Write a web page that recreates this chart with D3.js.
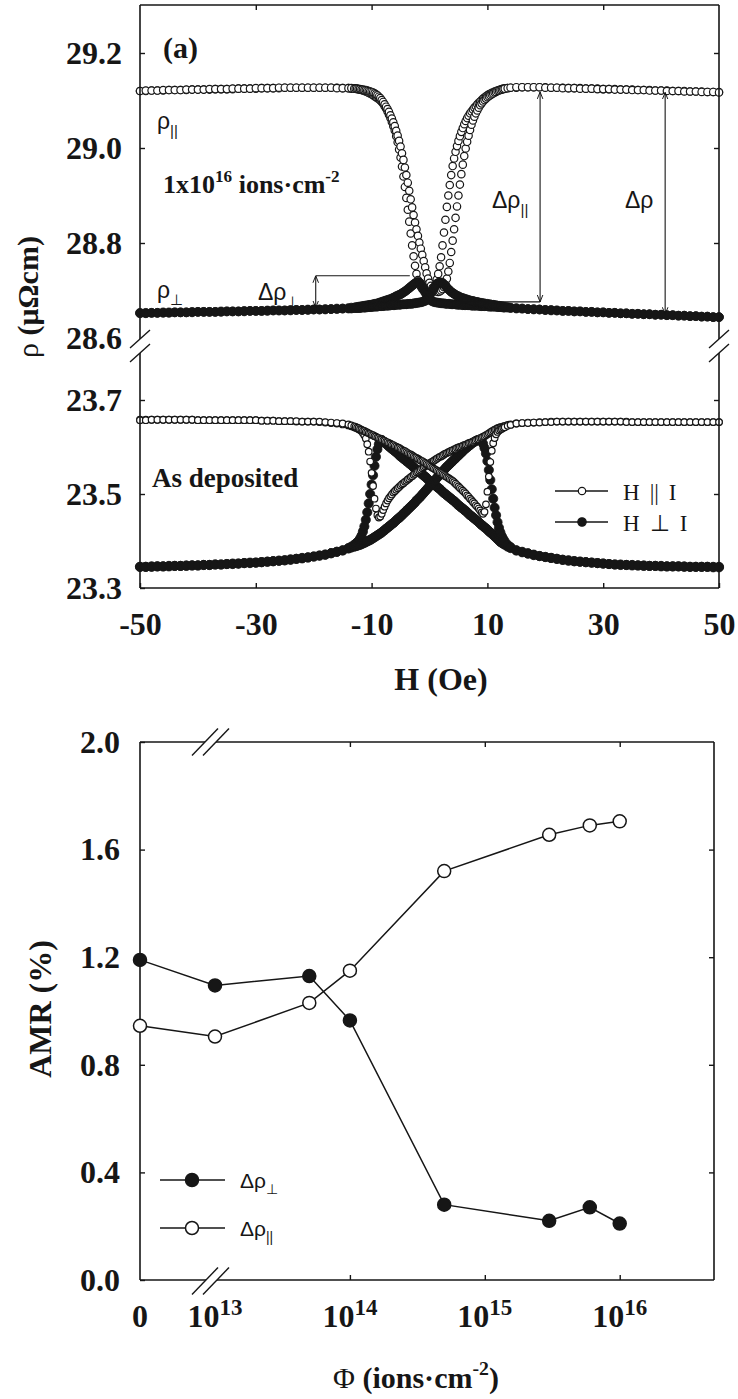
<!DOCTYPE html>
<html>
<head>
<meta charset="utf-8">
<script src="https://cdn.jsdelivr.net/npm/d3@7"></script>
<style>body{margin:0;background:#fff}</style>
</head>
<body>
<div id="chart"></div>
<script>
// ---- panel (a): field sweep grid in Oe, same for every branch ----
const fieldH = [-50,-49,-48,-47,-46,-45,-44,-43,-42,-41,-40,-39,-38,-37,-36,-35,-34,-33,-32,-31,-30,-29,-28,-27,-26,-25,-24,-23,-22,-21,-20,-19,-18,-17,-16,-15,-14,
  -13.5,
  -13,-12.75,-12.5,-12.25,-12,-11.75,-11.5,-11.25,-11,-10.75,-10.5,-10.25,-10,-9.75,-9.5,-9.25,-9,-8.75,-8.5,-8.25,-8,-7.75,-7.5,-7.25,-7,-6.75,-6.5,-6.25,-6,-5.75,-5.5,-5.25,-5,-4.75,-4.5,-4.25,-4,-3.75,-3.5,-3.25,-3,-2.75,-2.5,-2.25,-2,-1.75,-1.5,-1.25,-1,-0.75,-0.5,-0.25,
  0,0.25,0.5,0.75,1,1.25,1.5,1.75,2,2.25,2.5,2.75,3,3.25,3.5,3.75,4,4.25,4.5,4.75,5,5.25,5.5,5.75,6,6.25,6.5,6.75,7,7.25,7.5,7.75,8,8.25,8.5,8.75,9,9.25,9.5,9.75,10,10.25,10.5,10.75,11,11.25,11.5,11.75,12,12.25,12.5,12.75,13,
  13.5,
  14,15,16,17,18,19,20,21,22,23,24,25,26,27,28,29,30,31,32,33,34,35,36,37,38,39,40,41,42,43,44,45,46,47,48,49,50];

// 1x10^16 ions/cm2, H || I (open), two sweep branches
const rhoPar16A = [29.120,29.120,29.121,29.121,29.121,29.122,29.122,29.122,29.122,29.123,29.123,29.123,29.123,29.124,29.124,29.124,29.124,29.125,29.125,29.125,29.125,29.126,29.126,29.126,29.126,29.127,29.127,29.127,29.127,29.127,29.127,29.127,29.127,29.127,29.127,29.126,29.126,
  29.125,
  29.125,29.125,29.124,29.124,29.123,29.122,29.121,29.120,29.119,29.118,29.116,29.115,29.113,29.111,29.109,29.107,29.105,29.103,29.100,29.097,29.093,29.088,29.083,29.077,29.070,29.063,29.055,29.046,29.037,29.025,29.012,28.997,28.980,28.961,28.940,28.918,28.895,28.870,28.845,28.820,28.795,28.772,28.752,28.735,28.722,28.714,28.708,28.703,28.700,28.698,28.697,28.698,
  28.700,28.703,28.706,28.709,28.714,28.723,28.735,28.751,28.770,28.795,28.822,28.849,28.876,28.900,28.922,28.943,28.962,28.978,28.992,29.004,29.015,29.025,29.034,29.042,29.050,29.057,29.063,29.068,29.073,29.077,29.081,29.085,29.088,29.092,29.095,29.098,29.101,29.104,29.106,29.109,29.111,29.113,29.114,29.116,29.117,29.119,29.120,29.121,29.122,29.123,29.124,29.125,29.125,
  29.126,
  29.127,29.127,29.128,29.128,29.128,29.128,29.128,29.127,29.127,29.127,29.126,29.126,29.126,29.125,29.125,29.125,29.124,29.124,29.124,29.123,29.123,29.123,29.122,29.122,29.122,29.121,29.121,29.121,29.120,29.120,29.120,29.119,29.119,29.119,29.118,29.118,29.118];
const rhoPar16B = [29.120,29.121,29.121,29.121,29.122,29.122,29.122,29.122,29.123,29.123,29.123,29.123,29.124,29.124,29.124,29.124,29.125,29.125,29.125,29.125,29.126,29.126,29.126,29.126,29.127,29.127,29.127,29.127,29.127,29.127,29.127,29.127,29.127,29.127,29.126,29.126,29.126,
  29.126,
  29.125,29.125,29.125,29.124,29.124,29.123,29.123,29.122,29.122,29.121,29.120,29.119,29.118,29.117,29.115,29.113,29.111,29.108,29.105,29.101,29.097,29.092,29.087,29.082,29.076,29.069,29.062,29.054,29.046,29.036,29.026,29.015,29.003,28.989,28.975,28.959,28.943,28.927,28.910,28.892,28.875,28.859,28.843,28.829,28.815,28.801,28.788,28.775,28.762,28.749,28.736,28.725,
  28.716,28.710,28.705,28.702,28.699,28.698,28.697,28.698,28.700,28.703,28.707,28.714,28.725,28.740,28.758,28.781,28.805,28.829,28.853,28.877,28.900,28.923,28.945,28.965,28.983,28.999,29.013,29.026,29.038,29.049,29.058,29.066,29.073,29.079,29.085,29.090,29.094,29.098,29.101,29.104,29.107,29.109,29.111,29.113,29.115,29.117,29.118,29.120,29.121,29.122,29.123,29.124,29.125,
  29.126,
  29.127,29.128,29.128,29.128,29.128,29.128,29.127,29.127,29.127,29.126,29.126,29.126,29.125,29.125,29.125,29.124,29.124,29.124,29.123,29.123,29.123,29.122,29.122,29.122,29.121,29.121,29.121,29.120,29.120,29.120,29.119,29.119,29.119,29.118,29.118,29.118,29.117];
// 1x10^16 ions/cm2, H perp I (filled)
const rhoPerp16A = [28.653,28.653,28.653,28.653,28.654,28.654,28.654,28.654,28.654,28.655,28.655,28.655,28.655,28.655,28.656,28.656,28.656,28.656,28.657,28.657,28.657,28.657,28.658,28.658,28.658,28.658,28.659,28.659,28.659,28.660,28.660,28.660,28.661,28.661,28.662,28.662,28.663,
  28.664,
  28.664,28.665,28.665,28.666,28.666,28.667,28.667,28.668,28.668,28.669,28.669,28.670,28.670,28.671,28.672,28.672,28.673,28.674,28.675,28.676,28.677,28.678,28.679,28.680,28.681,28.682,28.683,28.685,28.686,28.688,28.689,28.691,28.692,28.694,28.696,28.698,28.700,28.703,28.705,28.708,28.710,28.713,28.715,28.717,28.718,28.717,28.714,28.709,28.703,28.696,28.690,28.685,
  28.681,28.679,28.677,28.676,28.675,28.675,28.674,28.674,28.673,28.673,28.673,28.672,28.672,28.672,28.672,28.671,28.671,28.671,28.671,28.670,28.670,28.670,28.670,28.669,28.669,28.669,28.669,28.669,28.669,28.668,28.668,28.668,28.668,28.668,28.668,28.667,28.667,28.667,28.667,28.667,28.667,28.666,28.666,28.666,28.666,28.666,28.666,28.665,28.665,28.665,28.665,28.664,28.664,
  28.664,
  28.663,28.662,28.662,28.661,28.660,28.660,28.659,28.658,28.658,28.657,28.657,28.656,28.656,28.655,28.655,28.654,28.654,28.653,28.653,28.652,28.652,28.651,28.651,28.650,28.650,28.649,28.649,28.648,28.648,28.647,28.647,28.646,28.646,28.645,28.645,28.644,28.644];
const rhoPerp16B = [28.652,28.652,28.653,28.653,28.653,28.653,28.654,28.654,28.654,28.654,28.655,28.655,28.655,28.655,28.655,28.656,28.656,28.656,28.656,28.657,28.657,28.657,28.657,28.658,28.658,28.658,28.658,28.659,28.659,28.659,28.660,28.660,28.660,28.661,28.661,28.662,28.662,
  28.662,
  28.663,28.663,28.663,28.663,28.663,28.664,28.664,28.664,28.664,28.665,28.665,28.665,28.665,28.666,28.666,28.666,28.666,28.667,28.667,28.667,28.667,28.668,28.668,28.668,28.668,28.669,28.669,28.669,28.669,28.670,28.670,28.670,28.670,28.671,28.671,28.671,28.671,28.672,28.672,28.672,28.672,28.673,28.673,28.674,28.674,28.675,28.675,28.676,28.677,28.678,28.680,28.683,
  28.688,28.694,28.700,28.705,28.710,28.714,28.716,28.717,28.717,28.716,28.713,28.710,28.706,28.703,28.700,28.697,28.695,28.693,28.691,28.689,28.688,28.686,28.685,28.684,28.683,28.682,28.681,28.680,28.679,28.678,28.678,28.677,28.676,28.676,28.675,28.674,28.674,28.673,28.673,28.672,28.672,28.671,28.671,28.670,28.670,28.669,28.669,28.668,28.668,28.667,28.667,28.666,28.666,
  28.665,
  28.664,28.663,28.662,28.661,28.661,28.660,28.659,28.659,28.658,28.657,28.657,28.656,28.656,28.655,28.655,28.654,28.654,28.653,28.653,28.652,28.652,28.651,28.651,28.650,28.650,28.649,28.649,28.648,28.648,28.647,28.647,28.646,28.646,28.645,28.645,28.644,28.644];
// as deposited, H || I (open)
const rhoParDep1 = [23.658,23.658,23.658,23.658,23.658,23.658,23.658,23.658,23.658,23.658,23.657,23.657,23.657,23.657,23.657,23.657,23.657,23.657,23.657,23.657,23.657,23.656,23.656,23.656,23.655,23.655,23.655,23.654,23.654,23.654,23.654,23.653,23.652,23.651,23.650,23.648,23.646,
  23.644,
  23.642,23.641,23.640,23.638,23.636,23.634,23.630,23.625,23.618,23.606,23.590,23.569,23.545,23.517,23.490,23.469,23.455,23.450,23.452,23.458,23.466,23.473,23.480,23.486,23.491,23.495,23.499,23.503,23.506,23.509,23.512,23.515,23.518,23.521,23.523,23.526,23.528,23.531,23.533,23.536,23.538,23.541,23.543,23.546,23.548,23.550,23.552,23.555,23.557,23.559,23.561,23.563,
  23.565,23.567,23.569,23.571,23.573,23.575,23.577,23.579,23.580,23.582,23.584,23.586,23.587,23.589,23.590,23.592,23.593,23.595,23.596,23.598,23.599,23.600,23.601,23.603,23.604,23.605,23.606,23.608,23.609,23.610,23.611,23.613,23.614,23.616,23.617,23.619,23.620,23.622,23.623,23.625,23.627,23.629,23.631,23.633,23.635,23.637,23.638,23.640,23.641,23.642,23.643,23.644,23.645,
  23.647,
  23.648,23.650,23.651,23.652,23.652,23.653,23.653,23.654,23.654,23.654,23.654,23.654,23.654,23.654,23.654,23.654,23.654,23.654,23.654,23.654,23.654,23.653,23.653,23.653,23.653,23.653,23.653,23.653,23.653,23.653,23.653,23.653,23.653,23.653,23.653,23.653,23.653];
const rhoParDep2 = [23.657,23.657,23.658,23.658,23.658,23.658,23.658,23.658,23.658,23.658,23.657,23.657,23.657,23.657,23.657,23.657,23.657,23.657,23.657,23.657,23.657,23.656,23.656,23.656,23.655,23.655,23.655,23.655,23.654,23.654,23.654,23.654,23.653,23.652,23.651,23.650,23.648,
  23.646,
  23.644,23.643,23.641,23.640,23.638,23.637,23.635,23.634,23.632,23.631,23.629,23.628,23.626,23.625,23.623,23.622,23.620,23.619,23.617,23.616,23.614,23.613,23.611,23.610,23.608,23.607,23.605,23.604,23.602,23.601,23.599,23.598,23.596,23.594,23.592,23.591,23.589,23.587,23.585,23.584,23.582,23.580,23.578,23.577,23.575,23.573,23.571,23.570,23.568,23.566,23.564,23.562,
  23.560,23.558,23.556,23.554,23.552,23.550,23.548,23.546,23.544,23.542,23.540,23.538,23.536,23.534,23.532,23.530,23.528,23.525,23.522,23.519,23.516,23.513,23.510,23.507,23.504,23.501,23.497,23.494,23.490,23.487,23.483,23.480,23.476,23.473,23.469,23.465,23.461,23.458,23.462,23.478,23.505,23.537,23.568,23.592,23.608,23.619,23.627,23.632,23.635,23.637,23.639,23.641,23.642,
  23.645,
  23.647,23.650,23.651,23.651,23.652,23.652,23.653,23.653,23.654,23.654,23.654,23.654,23.654,23.654,23.654,23.654,23.654,23.654,23.654,23.654,23.653,23.653,23.653,23.653,23.653,23.653,23.653,23.653,23.653,23.653,23.653,23.653,23.653,23.653,23.653,23.653,23.653];
// as deposited, H perp I (filled)
const rhoPerpDep1 = [23.345,23.345,23.345,23.346,23.346,23.346,23.347,23.347,23.347,23.348,23.348,23.349,23.349,23.350,23.350,23.351,23.351,23.352,23.353,23.353,23.354,23.355,23.356,23.357,23.358,23.359,23.360,23.362,23.363,23.365,23.367,23.369,23.371,23.374,23.377,23.380,23.385,
  23.388,
  23.392,23.394,23.397,23.400,23.405,23.411,23.420,23.431,23.445,23.461,23.480,23.500,23.520,23.540,23.560,23.579,23.595,23.606,23.613,23.615,23.612,23.610,23.607,23.604,23.601,23.599,23.596,23.594,23.591,23.589,23.586,23.583,23.580,23.578,23.575,23.573,23.570,23.568,23.565,23.563,23.560,23.557,23.554,23.552,23.549,23.547,23.544,23.542,23.539,23.537,23.534,23.531,
  23.528,23.526,23.523,23.521,23.518,23.516,23.513,23.511,23.508,23.505,23.502,23.500,23.497,23.495,23.492,23.490,23.487,23.485,23.482,23.479,23.476,23.474,23.471,23.469,23.466,23.464,23.461,23.458,23.455,23.453,23.450,23.448,23.445,23.443,23.440,23.437,23.434,23.432,23.429,23.427,23.424,23.421,23.418,23.416,23.413,23.410,23.407,23.404,23.401,23.398,23.396,23.394,23.392,
  23.388,
  23.385,23.380,23.377,23.374,23.371,23.368,23.366,23.364,23.362,23.360,23.359,23.357,23.356,23.355,23.354,23.353,23.352,23.351,23.350,23.350,23.349,23.349,23.348,23.348,23.347,23.347,23.347,23.346,23.346,23.346,23.346,23.345,23.345,23.345,23.345,23.345,23.345];
const rhoPerpDep2 = [23.345,23.345,23.346,23.346,23.346,23.347,23.347,23.347,23.348,23.348,23.348,23.349,23.349,23.350,23.350,23.351,23.352,23.352,23.353,23.354,23.354,23.355,23.356,23.357,23.358,23.359,23.361,23.362,23.364,23.365,23.367,23.369,23.371,23.374,23.377,23.380,23.384,
  23.386,
  23.388,23.389,23.390,23.391,23.392,23.393,23.395,23.396,23.398,23.399,23.401,23.402,23.404,23.406,23.408,23.410,23.412,23.414,23.416,23.418,23.421,23.423,23.426,23.428,23.431,23.433,23.436,23.438,23.441,23.444,23.447,23.449,23.452,23.455,23.458,23.461,23.464,23.467,23.470,23.473,23.476,23.479,23.482,23.486,23.489,23.492,23.495,23.499,23.502,23.506,23.509,23.513,
  23.516,23.520,23.523,23.527,23.530,23.534,23.537,23.541,23.544,23.548,23.551,23.555,23.558,23.561,23.564,23.567,23.570,23.573,23.576,23.579,23.582,23.585,23.588,23.591,23.594,23.597,23.599,23.602,23.604,23.607,23.609,23.611,23.613,23.614,23.615,23.615,23.612,23.607,23.598,23.586,23.570,23.551,23.530,23.510,23.490,23.471,23.455,23.440,23.428,23.418,23.410,23.404,23.399,
  23.392,
  23.387,23.380,23.376,23.373,23.370,23.368,23.366,23.364,23.362,23.360,23.358,23.357,23.356,23.355,23.354,23.353,23.352,23.351,23.350,23.349,23.349,23.348,23.348,23.347,23.347,23.347,23.346,23.346,23.346,23.346,23.345,23.345,23.345,23.345,23.345,23.344,23.344];

const fieldTicks = [-50, -30, -10, 10, 30, 50];
const rhoTicksHi = [29.2, 29.0, 28.8, 28.6];
const rhoTicksLo = [23.7, 23.5, 23.3];

// ---- panel (b): AMR vs fluence ----
const dose = [0, 1e13, 5e13, 1e14, 5e14, 3e15, 6e15, 1e16];
const amrPerp = [1.19, 1.095, 1.13, 0.965, 0.28, 0.22, 0.27, 0.21];
const amrPar = [0.945, 0.905, 1.03, 1.15, 1.52, 1.655, 1.69, 1.705];
const amrTicks = [0, 0.4, 0.8, 1.2, 1.6, 2.0];
const doseTickExp = [13, 14, 15, 16];

// sanity check on hand-typed series
const allBranches = {rhoPar16A, rhoPar16B, rhoPerp16A, rhoPerp16B, rhoParDep1, rhoParDep2, rhoPerpDep1, rhoPerpDep2};
Object.keys(allBranches).forEach(k => {
  if (allBranches[k].length !== fieldH.length)
    throw new Error(k + " has " + allBranches[k].length + " values, grid has " + fieldH.length);
});

const ink = "#161616";
const serif = "'Liberation Serif','Times New Roman',serif";
const sans = "'Liberation Sans',Arial,sans-serif";

const svg = d3.select("#chart").append("svg")
  .attr("width", 738).attr("height", 1399)
  .style("background", "#fff");

function seg(g, pts, w) {
  g.append("path").attr("d", d3.line()(pts))
    .attr("fill", "none").attr("stroke", ink).attr("stroke-width", w || 1.6);
}
function styleAxis(sel, size) {
  sel.select(".domain").remove();
  sel.selectAll("line").attr("stroke", ink).attr("stroke-width", 1.4);
  sel.selectAll("text").attr("fill", ink)
    .style("font-family", serif).style("font-weight", "bold").style("font-size", (size || 32) + "px");
}
// text made of pieces: {t, sub} or {t, sup}
function rich(g, x, y, parts, font, size, weight, anchor) {
  const t = g.append("text").attr("x", x).attr("y", y).attr("fill", ink)
    .style("font-family", font).style("font-size", size + "px")
    .style("font-weight", weight || "normal").attr("text-anchor", anchor || "start");
  let shift = 0;
  parts.forEach(p => {
    const want = p.sub ? size * 0.3 : p.sup ? -size * 0.42 : 0;
    const ts = t.append("tspan").text(p.t).attr("dy", want - shift);
    if (p.sub || p.sup) ts.style("font-size", (size * 0.66) + "px");
    if (p.font) ts.style("font-family", p.font);
    if (p.weight) ts.style("font-weight", p.weight);
    shift = want;
  });
  return t;
}

// ================= panel (a) =================
const pa = {left: 140, right: 719, top: 5, bottom: 588, gapTop: 339, gapBot: 353};
const xH = d3.scaleLinear().domain([-50, 50]).range([pa.left, pa.right]);
const yHi = d3.scaleLinear().domain([28.6, 29.2]).range([338, 53]);
const yLo = d3.scaleLinear().domain([23.3, 23.7]).range([588, 400]);

const gA = svg.append("g");

function drawBranch(g, rho, y, filled, r) {
  g.append("g").selectAll("circle")
    .data(fieldH.map((h, i) => ({h: h, v: rho[i]})))
    .join("circle")
    .attr("cx", d => xH(d.h)).attr("cy", d => y(d.v)).attr("r", r)
    .attr("fill", filled ? ink : "#fff")
    .attr("stroke", ink).attr("stroke-width", filled ? 0.8 : 1.2);
}

drawBranch(gA, rhoPar16A, yHi, false, 3.7);
drawBranch(gA, rhoPar16B, yHi, false, 3.7);
drawBranch(gA, rhoPerp16A, yHi, true, 4.4);
drawBranch(gA, rhoPerp16B, yHi, true, 4.4);

drawBranch(gA, rhoPerpDep1, yLo, true, 4.6);
drawBranch(gA, rhoPerpDep2, yLo, true, 4.6);
drawBranch(gA, rhoParDep1, yLo, false, 3.3);
drawBranch(gA, rhoParDep2, yLo, false, 3.3);

// frame with axis break
seg(gA, [[pa.left, pa.top], [pa.right, pa.top]]);
seg(gA, [[pa.left, pa.bottom], [pa.right, pa.bottom]]);
[pa.left, pa.right].forEach(x => {
  seg(gA, [[x, pa.top], [x, pa.gapTop]]);
  seg(gA, [[x, pa.gapBot], [x, pa.bottom]]);
  [pa.gapTop, pa.gapBot].forEach(y => seg(gA, [[x - 10, y + 9], [x + 10, y - 9]], 1.4));
});

gA.append("g").attr("transform", `translate(${pa.left},0)`)
  .call(d3.axisLeft(yHi).tickValues(rhoTicksHi).tickFormat(d3.format(".1f"))
    .tickSizeInner(-5).tickSizeOuter(0).tickPadding(18))
  .call(styleAxis)
  .call(s => s.selectAll(".tick").filter(d => d === 28.6).select("line").remove());
gA.append("g").attr("transform", `translate(${pa.left},0)`)
  .call(d3.axisLeft(yLo).tickValues(rhoTicksLo).tickFormat(d3.format(".1f"))
    .tickSizeInner(-5).tickSizeOuter(0).tickPadding(18))
  .call(styleAxis);
gA.append("g").attr("transform", `translate(${pa.right},0)`)
  .call(d3.axisRight(yHi).tickValues(rhoTicksHi.slice(0, 3)).tickFormat("").tickSizeInner(-5).tickSizeOuter(0))
  .call(styleAxis);
gA.append("g").attr("transform", `translate(${pa.right},0)`)
  .call(d3.axisRight(yLo).tickValues(rhoTicksLo.slice(0, 2)).tickFormat("").tickSizeInner(-5).tickSizeOuter(0))
  .call(styleAxis);
gA.append("g").attr("transform", `translate(0,${pa.top})`)
  .call(d3.axisTop(xH).tickValues(fieldTicks.slice(1, -1)).tickFormat("").tickSizeInner(-5).tickSizeOuter(0))
  .call(styleAxis);
gA.append("g").attr("transform", `translate(0,${pa.bottom})`)
  .call(d3.axisBottom(xH).tickValues(fieldTicks).tickFormat(d => String(d))
    .tickSizeInner(-5).tickSizeOuter(0))
  .call(styleAxis)
  .call(s => s.selectAll("text").attr("y", 47).attr("dy", null));

rich(gA, 441, 690, [{t: "H (Oe)"}], serif, 32, "bold", "middle");
rich(gA, 0, 0, [{t: "ρ", weight: "normal"}, {t: " (μΩcm)"}], serif, 30, "bold", "middle")
  .attr("transform", "translate(38,297) rotate(-90)");

// annotations
rich(gA, 163, 58, [{t: "(a)"}], serif, 30, "bold");
rich(gA, 163, 193, [{t: "1x10"}, {t: "16", sup: true}, {t: " ions·cm"}, {t: "-2", sup: true}], serif, 26, "bold");
rich(gA, 152, 487, [{t: "As deposited"}], serif, 27, "bold");
rich(gA, 157, 129, [{t: "ρ"}, {t: "||", sub: true}], sans, 23);
rich(gA, 157, 298, [{t: "ρ"}, {t: "⊥", sub: true}], sans, 23);
rich(gA, 258, 300, [{t: "Δρ"}, {t: "⊥", sub: true}], sans, 23);
rich(gA, 492, 208, [{t: "Δρ"}, {t: "||", sub: true}], sans, 23);
rich(gA, 625, 208, [{t: "Δρ"}], sans, 23);

// arrows (field in Oe, resistivity in µΩcm)
const arrowH = [-19.65, 19.1, 40.7];
const arrowTop = [28.731, 29.118, 29.117];
const arrowBot = [28.664, 28.676, 28.650];
const defs = svg.append("defs");
defs.append("marker").attr("id", "ah").attr("viewBox", "0 0 10 10")
  .attr("refX", 10).attr("refY", 5).attr("markerWidth", 7).attr("markerHeight", 7)
  .attr("markerUnits", "userSpaceOnUse").attr("orient", "auto-start-reverse")
  .append("path").attr("d", "M0,1 L10,5 L0,9").attr("fill", "none")
  .attr("stroke", ink).attr("stroke-width", 1.4);
arrowH.forEach((h, i) => {
  gA.append("line").attr("x1", xH(h)).attr("x2", xH(h))
    .attr("y1", yHi(arrowTop[i])).attr("y2", yHi(arrowBot[i]))
    .attr("stroke", ink).attr("stroke-width", 1.1)
    .attr("marker-start", "url(#ah)").attr("marker-end", "url(#ah)");
});
// reference levels for the arrows
seg(gA, [[xH(-19.65), yHi(28.731)], [xH(-3.4), yHi(28.731)]], 1.1);
seg(gA, [[xH(4.0), yHi(28.676)], [xH(19.1), yHi(28.676)]], 1.1);

// legend
const legA = [{lab: ["H", "||", "I"], filled: false, y: 491}, {lab: ["H", "⊥", "I"], filled: true, y: 522}];
legA.forEach(l => {
  seg(gA, [[555, l.y], [608, l.y]], 1.3);
  gA.append("circle").attr("cx", 582).attr("cy", l.y).attr("r", l.filled ? 4.2 : 3.7)
    .attr("fill", l.filled ? ink : "#fff").attr("stroke", ink).attr("stroke-width", 1.2);
  const t = gA.append("text").attr("x", 623).attr("y", l.y + 9).attr("fill", ink)
    .style("font-family", serif).style("font-size", "23px");
  t.append("tspan").text(l.lab[0]);
  t.append("tspan").attr("dx", 10).text(l.lab[1]);
  t.append("tspan").attr("dx", 10).text(l.lab[2]);
});

// ================= panel (b) =================
const pb = {left: 140, right: 714, top: 742, bottom: 1280};
const yAmr = d3.scaleLinear().domain([0, 2]).range([pb.bottom, pb.top]);
const xDose = d3.scaleLog().domain([1e13, 5e16]).range([215, pb.right]);
const xPhi = d => d === 0 ? pb.left : xDose(d);

const gB = svg.append("g");

// frame with x break
seg(gB, [[pb.left, pb.top], [205, pb.top]]);
seg(gB, [[216, pb.top], [pb.right, pb.top]]);
seg(gB, [[pb.left, pb.bottom], [206, pb.bottom]]);
seg(gB, [[217, pb.bottom], [pb.right, pb.bottom]]);
seg(gB, [[pb.left, pb.top], [pb.left, pb.bottom]]);
seg(gB, [[pb.right, pb.top], [pb.right, pb.bottom]]);
[[205, pb.top], [216, pb.top], [205, pb.bottom + 1], [216, pb.bottom + 1]].forEach(c =>
  seg(gB, [[c[0] - 13, c[1] + 13.5], [c[0] + 13, c[1] - 13.5]], 1.4));

gB.append("g").attr("transform", `translate(${pb.left},0)`)
  .call(d3.axisLeft(yAmr).tickValues(amrTicks).tickFormat(d3.format(".1f"))
    .tickSizeInner(-5).tickSizeOuter(0).tickPadding(20))
  .call(styleAxis);
gB.append("g").attr("transform", `translate(${pb.right},0)`)
  .call(d3.axisRight(yAmr).tickValues(amrTicks.slice(1, -1)).tickFormat("").tickSizeInner(-5).tickSizeOuter(0))
  .call(styleAxis);
const majorDose = doseTickExp.slice(1).map(e => Math.pow(10, e));
gB.append("g").attr("transform", `translate(0,${pb.bottom})`)
  .call(d3.axisBottom(xDose).tickValues(majorDose).tickFormat("").tickSizeInner(-5).tickSizeOuter(0))
  .call(styleAxis);
gB.append("g").attr("transform", `translate(0,${pb.top})`)
  .call(d3.axisTop(xDose).tickValues(majorDose).tickFormat("").tickSizeInner(-5).tickSizeOuter(0))
  .call(styleAxis);

rich(gB, xPhi(0), 1327, [{t: "0"}], serif, 32, "bold", "middle");
doseTickExp.forEach(e => {
  rich(gB, xDose(Math.pow(10, e)), 1327, [{t: "10"}, {t: String(e), sup: true}], serif, 32, "bold", "middle")
    .call(t => t.selectAll("tspan").filter((d, i) => i === 1).style("font-size", "23px").attr("dy", -12));
});

rich(gB, 333, 1388, [{t: "Φ", weight: "normal"}, {t: " (ions·cm"}, {t: "-2", sup: true}, {t: ")"}], serif, 30, "bold");
rich(gB, 0, 0, [{t: "AMR (%)"}], serif, 32, "bold", "middle")
  .attr("transform", "translate(51,1009) rotate(-90)");

const seriesB = [
  {vals: amrPerp, filled: true},
  {vals: amrPar, filled: false}
];
const lineB = d3.line().x(d => xPhi(d.x)).y(d => yAmr(d.y));
seriesB.forEach(s => {
  const pts = dose.map((x, i) => ({x: x, y: s.vals[i]}));
  gB.append("path").attr("d", lineB(pts)).attr("fill", "none")
    .attr("stroke", ink).attr("stroke-width", 1.5);
  gB.append("g").selectAll("circle").data(pts).join("circle")
    .attr("cx", d => xPhi(d.x)).attr("cy", d => yAmr(d.y)).attr("r", 6.5)
    .attr("fill", s.filled ? ink : "#fff").attr("stroke", ink).attr("stroke-width", 1.5);
});

// legend (b)
const legB = [{sub: "⊥", filled: true, y: 1180}, {sub: "||", filled: false, y: 1228}];
legB.forEach(l => {
  seg(gB, [[160, l.y], [225, l.y]], 1.5);
  gB.append("circle").attr("cx", 192).attr("cy", l.y).attr("r", 6.5)
    .attr("fill", l.filled ? ink : "#fff").attr("stroke", ink).attr("stroke-width", 1.5);
  rich(gB, 240, l.y + 8, [{t: "Δρ"}, {t: l.sub, sub: true}], sans, 21);
});
</script>
</body>
</html>
